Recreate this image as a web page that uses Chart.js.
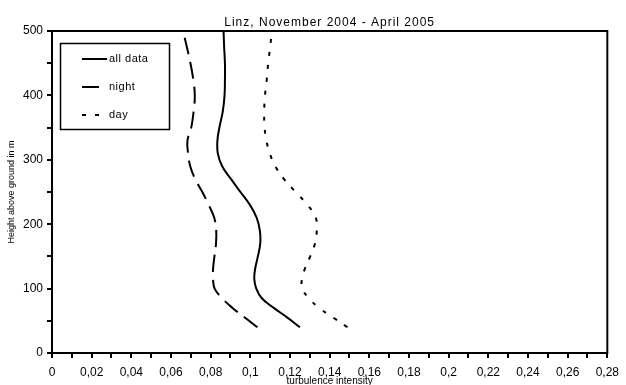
<!DOCTYPE html>
<html><head><meta charset="utf-8">
<script src="https://cdn.jsdelivr.net/npm/chart.js@4/dist/chart.umd.min.js"></script>
<style>html,body{margin:0;padding:0;background:#fff}</style>
</head><body>
<canvas id="c" width="626" height="385"></canvas>
<script>
const chartTitle = 'Linz, November 2004 - April 2005';
const xTitle = 'turbulence intensity';
const yTitle = 'Height above ground in m';
const seriesLabels = ['all data', 'night', 'day'];
const heights = [40, 55, 70, 85, 100, 115, 130, 150, 170, 190, 210, 230, 250, 270, 290, 310, 330, 350, 375, 400, 425, 450, 475, 500];
const allData = [0.1250, 0.1187, 0.1118, 0.1058, 0.1030, 0.1020, 0.1024, 0.1038, 0.1050, 0.1048, 0.1032, 0.0998, 0.0950, 0.0903, 0.0858, 0.0836, 0.0834, 0.0844, 0.0861, 0.0870, 0.0872, 0.0872, 0.0868, 0.0865];
const night   = [0.1036, 0.0972, 0.0910, 0.0858, 0.0820, 0.0812, 0.0812, 0.0819, 0.0827, 0.0828, 0.0818, 0.0790, 0.0758, 0.0722, 0.0697, 0.0686, 0.0683, 0.0702, 0.0714, 0.0720, 0.0712, 0.0698, 0.0680, 0.0661];
const day     = [0.1490, 0.1418, 0.1347, 0.1295, 0.1262, 0.1260, 0.1274, 0.1302, 0.1326, 0.1335, 0.1330, 0.1288, 0.1228, 0.1170, 0.1126, 0.1098, 0.1081, 0.1072, 0.1070, 0.1074, 0.1083, 0.1090, 0.1100, 0.1109];
const xMajorTicks = ['0','0,02','0,04','0,06','0,08','0,1','0,12','0,14','0,16','0,18','0,2','0,22','0,24','0,26','0,28'];
const yMajorTicks = ['0','100','200','300','400','500'];

const FONT = '"Liberation Sans", Arial, sans-serif';
const dashes = [[], [17, 8], [4, 9]];

function pts(vals){ return vals.map((v,i)=>({x:v, y:heights[i]})); }
const seriesVals = [allData, night, day];

const datasets = seriesVals.map((vals,i)=>({
  label: seriesLabels[i],
  data: pts(vals),
  showLine: true,
  borderColor: '#000',
  borderWidth: 2,
  borderDash: dashes[i],
  pointRadius: 0,
  tension: 0.4,
  fill: false
}));

const overlay = {
  id: 'overlay',
  afterDraw(chart){
    const ctx = chart.ctx, a = chart.chartArea;
    ctx.save();
    ctx.strokeStyle = '#000';
    ctx.lineWidth = 2;
    ctx.strokeRect(a.left, a.top, a.right - a.left, a.bottom - a.top);
    // title
    ctx.fillStyle = '#000';
    ctx.font = '12px ' + FONT;
    if ('letterSpacing' in ctx) ctx.letterSpacing = '1px';
    ctx.textAlign = 'center';
    ctx.textBaseline = 'alphabetic';
    ctx.fillText(chartTitle, (a.left + a.right)/2, a.top - 5);
    // legend
    const bx = 60, by = 43, bw = 109, bh = 86;
    ctx.lineWidth = 1.5;
    ctx.strokeRect(bx + 0.5, by + 0.5, bw, bh);
    ctx.font = '11px ' + FONT;
    if ('letterSpacing' in ctx) ctx.letterSpacing = '0.5px';
    ctx.textAlign = 'left';
    ctx.textBaseline = 'middle';
    chart.data.datasets.forEach((ds, i) => {
      const y = by + 16 + i*28;
      ctx.beginPath();
      ctx.setLineDash(ds.borderDash);
      ctx.lineWidth = 2;
      ctx.moveTo(82, y);
      ctx.lineTo(107, y);
      ctx.stroke();
      ctx.setLineDash([]);
      ctx.fillText(ds.label, 109, y);
    });
    ctx.restore();
  }
};

new Chart(document.getElementById('c'), {
  type: 'scatter',
  data: { datasets },
  plugins: [overlay],
  options: {
    responsive: false,
    devicePixelRatio: 1,
    animation: false,
    layout: { padding: { top: 31, right: 11, left: 0, bottom: 0 } },
    plugins: { legend: { display: false }, tooltip: { enabled: false }, title: { display: false } },
    scales: {
      x: {
        type: 'linear', min: 0, max: 0.28,
        ticks: {
          stepSize: 0.01, autoSkip: false, maxRotation: 0, color: '#000',
          font: { family: FONT, size: 12 }, padding: 7,
          callback: (v) => { const k = Math.round(v*100); return k % 2 === 0 ? xMajorTicks[k/2] : ''; }
        },
        grid: { display: true, drawOnChartArea: false, drawTicks: true, tickLength: 5, color: '#000', lineWidth: 2 },
        border: { display: true, color: '#000', width: 2 },
        title: { display: true, text: xTitle, color: '#000', font: { family: FONT, size: 10 }, padding: { top: 0, bottom: -2 } },
        afterFit: (s) => { s.height = 32; }
      },
      y: {
        type: 'linear', min: 0, max: 500,
        ticks: {
          stepSize: 50, autoSkip: false, color: '#000',
          font: { family: FONT, size: 12 }, padding: 4,
          callback: (v) => { const k = Math.round(v/50); return k % 2 === 0 ? yMajorTicks[k/2] : ''; }
        },
        grid: { display: true, drawOnChartArea: false, drawTicks: true, tickLength: 5, color: '#000', lineWidth: 2 },
        border: { display: true, color: '#000', width: 2 },
        title: { display: true, text: yTitle, color: '#000', font: { family: FONT, size: 9 }, padding: { top: 6, bottom: 0 } },
        afterFit: (s) => { s.width = 52; }
      }
    }
  }
});
</script>
</body></html>
